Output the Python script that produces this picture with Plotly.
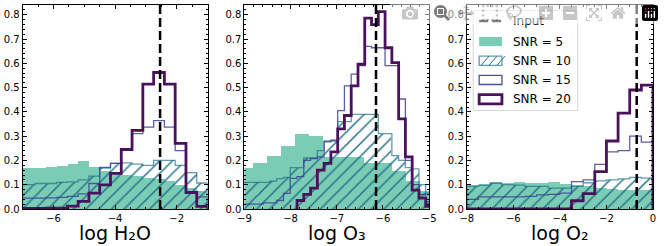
import plotly.graph_objects as go

FONT = "DejaVu Sans"

# ---------------- data ----------------
panel_labels = ["log H₂O", "log O₃", "log O₂"]
x_ranges = [[-7, -1], [-9, -5], [-8, 0]]
x_dticks = [2, 1, 2]
x_minor = [0.5, 0.2, 0.5]
input_values = [-2.54, -6.15, -0.7]

# Panel 1: log H2O (bin edges, then heights per SNR)
h2o_edges = [-7.3, -6.95, -6.6, -6.25, -5.9, -5.55, -5.2, -4.85, -4.5, -4.15,
             -3.8, -3.45, -3.1, -2.75, -2.4, -2.05, -1.7, -1.35, -1.0]
h2o_snr5 = [0.167, 0.167, 0.168, 0.172, 0.178, 0.185, 0.198, 0.172, 0.155,
            0.148, 0.14, 0.135, 0.128, 0.122, 0.115, 0.10, 0.088, 0.075]
h2o_snr10 = [0.10, 0.10, 0.105, 0.105, 0.11, 0.112, 0.12, 0.135, 0.168,
             0.188, 0.19, 0.185, 0.18, 0.20, 0.20, 0.18, 0.15, 0.107]
h2o_snr15 = [0.045, 0.045, 0.045, 0.046, 0.048, 0.052, 0.062, 0.105, 0.171,
             0.188, 0.245, 0.31, 0.337, 0.364, 0.337, 0.24, 0.07, 0.05]
h2o_snr20 = [0.002, 0.002, 0.002, 0.003, 0.004, 0.012, 0.031, 0.065, 0.099,
             0.147, 0.245, 0.324, 0.514, 0.562, 0.514, 0.27, 0.068, 0.011]

# Panel 2: log O3
o3_edges = [-9.034, -8.887, -8.741, -8.594, -8.447, -8.301, -8.154, -8.007,
            -7.860, -7.714, -7.567, -7.420, -7.274, -7.127, -6.980, -6.834,
            -6.687, -6.540, -6.394, -6.247, -6.100, -5.954, -5.807, -5.660,
            -5.514, -5.367, -5.220, -5.074, -4.927]
o3_edges_snr5 = [-9.1, -8.8, -8.5, -8.2, -7.9, -7.6, -7.3, -7.0, -6.7, -6.4,
                 -6.1, -5.8, -5.5, -5.2, -4.9]
o3_snr5 = [0.17, 0.19, 0.22, 0.26, 0.31, 0.30, 0.215, 0.215, 0.215, 0.19,
           0.19, 0.155, 0.115, 0.075]
o3_snr10 = [0.11, 0.11, 0.11, 0.11, 0.115, 0.125, 0.13, 0.17, 0.17, 0.21,
            0.21, 0.24, 0.28, 0.28, 0.36, 0.36, 0.39, 0.39, 0.39, 0.39,
            0.31, 0.31, 0.22, 0.20, 0.17, 0.165, 0.10, 0.065]
o3_snr15 = [0.02, 0.02, 0.02, 0.025, 0.025, 0.035, 0.064, 0.126, 0.133, 0.20,
            0.208, 0.215, 0.276, 0.283, 0.405, 0.507, 0.555, 0.59, 0.67, 0.664,
            0.664, 0.59, 0.59, 0.453, 0.20, 0.10, 0.06, 0.03]
o3_snr20_first_bin = 8
o3_snr20 = [0.035, 0.06, 0.086, 0.16, 0.188, 0.235, 0.33, 0.385, 0.507, 0.596,
            0.786, 0.759, 0.813, 0.664, 0.603, 0.371, 0.215, 0.078, 0.045, 0.011]

# Panel 3: log O2
o2_edges = [-8.0, -7.5, -7.0, -6.5, -6.0, -5.5, -5.0, -4.5, -4.0, -3.5, -3.0,
            -2.5, -2.0, -1.5, -1.0, -0.5, 0.0]
o2_snr5 = [0.10, 0.102, 0.113, 0.108, 0.11, 0.108, 0.108, 0.11, 0.103, 0.10,
           0.093, 0.086, 0.083, 0.079, 0.078, 0.077]
o2_snr10 = [0.093, 0.097, 0.106, 0.10, 0.098, 0.093, 0.093, 0.086, 0.086,
            0.093, 0.108, 0.116, 0.12, 0.124, 0.13, 0.127]
o2_snr15 = [0.04, 0.05, 0.05, 0.05, 0.05, 0.052, 0.058, 0.06, 0.065, 0.113,
            0.12, 0.184, 0.235, 0.24, 0.30, 0.275]
o2_snr20 = [0.0, 0.0, 0.0, 0.0, 0.0, 0.0, 0.0, 0.0, 0.0, 0.034, 0.063, 0.154,
            0.28, 0.395, 0.49, 0.51]

legend_labels = ["Input", "SNR = 5", "SNR = 10", "SNR = 15", "SNR = 20"]

# ---------------- styles ----------------
C5 = "#7accb4"
C10 = "#267489"
C10_LINE = "rgba(31,112,140,0.7)"
C15 = "rgba(62,68,150,0.85)"
C15_SOLID = "#4c4f9a"
C20 = "#4a125c"

panels = [
    dict(e5=h2o_edges, v5=h2o_snr5, e10=h2o_edges, v10=h2o_snr10,
         e15=h2o_edges, v15=h2o_snr15, e20=h2o_edges, v20=h2o_snr20),
    dict(e5=o3_edges_snr5, v5=o3_snr5, e10=o3_edges, v10=o3_snr10,
         e15=o3_edges, v15=o3_snr15, e20=o3_edges[o3_snr20_first_bin:], v20=o3_snr20),
    dict(e5=o2_edges, v5=o2_snr5, e10=o2_edges, v10=o2_snr10,
         e15=o2_edges, v15=o2_snr15, e20=o2_edges, v20=o2_snr20),
]

# plot-area pixel geometry
W, H = 664, 246
ML, MR, MT, MB = 21, 6, 4, 37
PW = W - ML - MR
dom_px = [(21.7, 208.3), (245.5, 432.0), (470.0, 658.0)]
domains = [[(a - ML) / PW, (b - ML) / PW] for a, b in dom_px]


def centers_widths(edges):
    c = [(edges[i] + edges[i + 1]) / 2 for i in range(len(edges) - 1)]
    w = [edges[i + 1] - edges[i] for i in range(len(edges) - 1)]
    return c, w


def step_xy(edges, vals):
    return [edges[0]] + list(edges), [0] + list(vals) + [0]


fig = go.Figure()
shapes = []
annotations = []

for i, p in enumerate(panels):
    xa = "x" if i == 0 else f"x{i+1}"
    ya = "y" if i == 0 else f"y{i+1}"
    c, w = centers_widths(p["e5"])
    fig.add_trace(go.Bar(x=c, y=p["v5"], width=w, xaxis=xa, yaxis=ya,
                         marker=dict(color=C5, line=dict(width=0)),
                         showlegend=False, hoverinfo="skip"))
    c, w = centers_widths(p["e10"])
    fig.add_trace(go.Bar(x=c, y=p["v10"], width=w, xaxis=xa, yaxis=ya,
                         marker=dict(color="rgba(0,0,0,0)", line=dict(width=0),
                                     pattern=dict(shape="/", size=9, solidity=0.17,
                                                  fgcolor=C10, fgopacity=1,
                                                  fillmode="overlay")),
                         showlegend=False, hoverinfo="skip"))
    sx, sy = step_xy(p["e10"], p["v10"])
    fig.add_trace(go.Scatter(x=sx, y=sy, mode="lines", line_shape="hv",
                             line=dict(color=C10_LINE, width=1.3),
                             xaxis=xa, yaxis=ya, showlegend=False, hoverinfo="skip"))
    sx, sy = step_xy(p["e15"], p["v15"])
    fig.add_trace(go.Scatter(x=sx, y=sy, mode="lines", line_shape="hv",
                             line=dict(color=C15, width=1.3),
                             xaxis=xa, yaxis=ya, showlegend=False, hoverinfo="skip"))
    sx, sy = step_xy(p["e20"], p["v20"])
    fig.add_trace(go.Scatter(x=sx, y=sy, mode="lines", line_shape="hv",
                             line=dict(color=C20, width=2.8),
                             xaxis=xa, yaxis=ya, showlegend=False, hoverinfo="skip"))

    shapes.append(dict(type="line", xref=xa, yref=f"{ya} domain",
                       x0=input_values[i], x1=input_values[i], y0=0, y1=1,
                       line=dict(color="black", width=2.5, dash="9px,4px")))

    annotations.append(dict(text=panel_labels[i], xref=f"{xa} domain",
                            yref=f"{ya} domain", x=0.5, y=0, xanchor="center",
                            yanchor="top", yshift=-11, showarrow=False,
                            font=dict(family=FONT, size=19, color="black")))

    axis_common = dict(showline=True, linecolor="black", linewidth=1,
                       mirror="ticks", ticks="inside", ticklen=4, tickwidth=1,
                       tickcolor="black", showgrid=False, zeroline=False,
                       tickfont=dict(family=FONT, size=10, color="black"))
    fig.layout[xa.replace("x", "xaxis")] = dict(
        domain=domains[i], range=x_ranges[i], anchor=ya, tick0=0,
        dtick=x_dticks[i],
        minor=dict(ticks="inside", ticklen=2, tickcolor="black",
                   dtick=x_minor[i], tick0=0, showgrid=False),
        **axis_common)
    fig.layout[ya.replace("y", "yaxis")] = dict(
        domain=[0, 1], range=[0, 0.84], anchor=xa, tick0=0, dtick=0.1,
        tickformat=".1f",
        minor=dict(ticks="inside", ticklen=2, tickcolor="black",
                   dtick=0.02, tick0=0, showgrid=False),
        **axis_common)

# ---------------- legend (drawn in panel 3 axes-fraction space) ----------------
x0p, x1p = dom_px[2]
PH = H - MT - MB


def fx(px):
    return (px - x0p) / (x1p - x0p)


def fy(py):
    return (MT + PH - py) / PH


LX = dict(xref="x3 domain", yref="y3 domain")
shapes.append(dict(type="rect", x0=fx(476.5), x1=fx(582), y0=fy(110), y1=fy(9.5),
                   line=dict(color="#d6d6d6", width=1),
                   fillcolor="rgba(255,255,255,0.85)", layer="above", **LX))
rows_py = [20, 40.7, 60, 79.3, 98.7]
hx0, hx1 = fx(482.5), fx(505.5)
hh = 4.6 / PH
# Input
shapes.append(dict(type="line", x0=hx0, x1=hx1, y0=fy(rows_py[0]), y1=fy(rows_py[0]),
                   line=dict(color="black", width=2.5, dash="9px,4px"), layer="above", **LX))
# SNR = 5
shapes.append(dict(type="rect", x0=hx0, x1=hx1, y0=fy(rows_py[1]) - hh, y1=fy(rows_py[1]) + hh,
                   line=dict(width=0), fillcolor=C5, layer="above", **LX))
# SNR = 10 (hatched)
yc = fy(rows_py[2])
for k in range(3):
    a = 482.5 + 2 + k * 8
    shapes.append(dict(type="line", x0=fx(a), x1=fx(a + 8), y0=yc - hh, y1=yc + hh,
                       line=dict(color=C10, width=1), layer="above", **LX))
shapes.append(dict(type="rect", x0=hx0, x1=hx1, y0=yc - hh, y1=yc + hh,
                   line=dict(color=C10_LINE, width=1.3), fillcolor="rgba(0,0,0,0)",
                   layer="above", **LX))
# SNR = 15
yc = fy(rows_py[3])
shapes.append(dict(type="rect", x0=hx0, x1=hx1, y0=yc - hh, y1=yc + hh,
                   line=dict(color=C15_SOLID, width=1.3), fillcolor="white",
                   layer="above", **LX))
# SNR = 20
yc = fy(rows_py[4])
shapes.append(dict(type="rect", x0=hx0, x1=hx1, y0=yc - hh, y1=yc + hh,
                   line=dict(color=C20, width=2.8), fillcolor="white",
                   layer="above", **LX))
for lab, py in zip(legend_labels, rows_py):
    annotations.append(dict(text=lab, x=fx(515), y=fy(py), xanchor="left",
                            yanchor="middle", showarrow=False,
                            font=dict(family=FONT, size=12, color="black"), **LX))

fig.update_layout(
    width=W, height=H, margin=dict(l=ML, r=MR, t=MT, b=MB),
    paper_bgcolor="white", plot_bgcolor="white",
    barmode="overlay", bargap=0, showlegend=False,
    shapes=shapes, annotations=annotations,
    font=dict(family=FONT, color="black"),
)

fig.write_html("out.html",
               post_script="document.body.style.margin='0px';document.body.style.padding='0px';")
